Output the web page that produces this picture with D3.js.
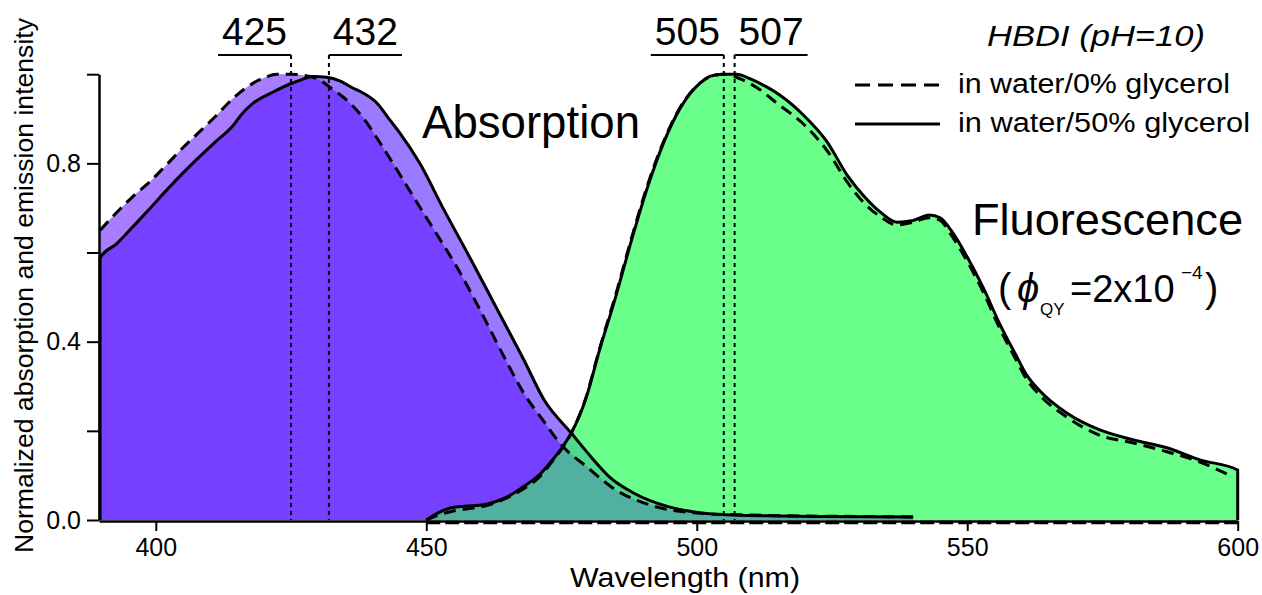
<!DOCTYPE html>
<html>
<head>
<meta charset="utf-8">
<script src="https://cdn.jsdelivr.net/npm/d3@7"></script>
<style>
  html, body { margin: 0; padding: 0; background: #fff; }
  svg { display: block; font-family: "Liberation Sans", Arial, sans-serif; }
</style>
</head>
<body>
<svg id="chart" width="1262" height="595"></svg>
<script>
// ---------- DATA ----------
// Absorption, in water / 0% glycerol (dashed)
const absDashedWl  = [389.7, 392, 395.7, 399, 402, 405, 408.1, 411, 414.3, 418, 420, 422.4, 424.8, 427, 430.3, 432.8, 435.3, 438.4, 441.5, 444.6, 448.8, 452, 456, 460, 464, 468, 471.8, 475, 479.6, 485.1, 491.3, 500.8, 510, 520, 530, 540];
const absDashedVal = [0.650, 0.68, 0.725, 0.76, 0.797, 0.835, 0.871, 0.905, 0.946, 0.98, 0.992, 1.0, 1.0, 0.998, 0.987, 0.965, 0.942, 0.901, 0.845, 0.785, 0.702, 0.64, 0.56, 0.47, 0.375, 0.285, 0.22, 0.168, 0.12, 0.067, 0.034, 0.015, 0.011, 0.009, 0.008, 0.007];
// Absorption, in water / 50% glycerol (solid)
const absSolidWl  = [389.7, 392.8, 395.7, 399, 402, 405, 408.1, 411, 414.3, 416, 418, 421.7, 424.8, 427, 429, 431.6, 434, 436.4, 438.3, 440.9, 443.3, 445, 448.8, 453.3, 458, 463, 468, 471.8, 476.8, 480.5, 484, 488.4, 494.7, 500.8, 506.9, 515, 523, 540];
const absSolidVal = [0.588, 0.62, 0.657, 0.70, 0.74, 0.778, 0.815, 0.848, 0.885, 0.912, 0.935, 0.96, 0.978, 0.988, 0.995, 0.993, 0.985, 0.969, 0.958, 0.935, 0.897, 0.870, 0.80, 0.695, 0.59, 0.475, 0.36, 0.269, 0.195, 0.141, 0.095, 0.06, 0.03, 0.016, 0.011, 0.009, 0.008, 0.007];
// Fluorescence, in water / 50% glycerol (solid)
const fluSolidWl  = [450, 452, 454.4, 457, 460.6, 463, 465.6, 468, 471.2, 473, 475.2, 476.8, 479.5, 482, 485, 488, 491, 494, 497, 500.6, 502.4, 504.8, 507.4, 509.8, 513, 515.4, 520, 524, 528, 531, 534, 537, 540, 543, 545, 547, 550, 553, 556, 559, 561, 563.4, 568.4, 574.5, 580.6, 586.9, 593, 600];
const fluSolidVal = [0.0, 0.015, 0.027, 0.031, 0.034, 0.042, 0.056, 0.075, 0.105, 0.13, 0.164, 0.195, 0.272, 0.38, 0.50, 0.63, 0.75, 0.85, 0.925, 0.98, 0.995, 1.0, 1.0, 0.99, 0.971, 0.953, 0.905, 0.85, 0.77, 0.725, 0.69, 0.668, 0.672, 0.684, 0.678, 0.65, 0.59, 0.52, 0.44, 0.37, 0.325, 0.29, 0.24, 0.202, 0.18, 0.162, 0.135, 0.112];
// Fluorescence, in water / 0% glycerol (dashed)
const fluDashedWl  = [450, 452, 455, 458, 461, 465, 468, 471.2, 473, 475.2, 476.8, 479.5, 482, 485, 488, 491, 494, 497, 500.6, 502.4, 505, 508.5, 511.7, 514.8, 520, 524, 528, 531, 534, 537, 540, 543, 545, 547, 550, 553, 556, 559, 561, 563.4, 568.4, 574.5, 580.6, 586.9, 593, 598.6];
const fluDashedVal = [0.0, 0.01, 0.02, 0.026, 0.032, 0.05, 0.07, 0.10, 0.127, 0.162, 0.195, 0.274, 0.383, 0.505, 0.635, 0.755, 0.853, 0.927, 0.98, 0.994, 1.0, 0.987, 0.965, 0.935, 0.885, 0.83, 0.755, 0.71, 0.68, 0.662, 0.668, 0.678, 0.672, 0.64, 0.58, 0.51, 0.43, 0.36, 0.315, 0.28, 0.231, 0.19, 0.173, 0.153, 0.13, 0.10];

const peakWl    = [425, 432, 505, 507];
const peakLabel = ["425", "432", "505", "507"];
const peakSide  = [-1, 1, -1, 1];

const xTicks = [400, 450, 500, 550, 600];
const yTicks = [0, 0.2, 0.4, 0.6, 0.8, 1.0];
const yTickLabels = ["0.0", "", "0.4", "", "0.8", ""];

const legendTitle  = "HBDI (pH=10)";
const legendLabels = ["in water/0% glycerol", "in water/50% glycerol"];

// ---------- SETUP ----------
const svg = d3.select("#chart");
const x = d3.scaleLinear().domain([389.5, 600]).range([99, 1237.7]);
const y = d3.scaleLinear().domain([0, 1]).range([520, 74.2]);

const zip = (w, v) => w.map((d, i) => [d, v[i]]);
const absD = zip(absDashedWl, absDashedVal);
const absS = zip(absSolidWl, absSolidVal);
const fluS = zip(fluSolidWl, fluSolidVal);
const fluD = zip(fluDashedWl, fluDashedVal);

const curve = d3.curveMonotoneX;
const area = d3.area().curve(curve).x(d => x(d[0])).y0(y(0)).y1(d => y(d[1]));
const line = d3.line().curve(curve).x(d => x(d[0])).y(d => y(d[1]));
const lineLin = d3.line().x(d => x(d[0])).y(d => y(d[1]));

const defs = svg.append("defs");
defs.append("clipPath").attr("id", "clipAbsD").append("path").attr("d", area(absD));
defs.append("clipPath").attr("id", "clipAbsS").append("path").attr("d", area(absS));
const cu = defs.append("clipPath").attr("id", "clipAbsU");
cu.append("path").attr("d", area(absD));
cu.append("path").attr("d", area(absS));

// ---------- FILLS ----------
svg.append("path").attr("d", area(absD)).attr("fill", "#a87cff");
svg.append("path").attr("d", area(absS)).attr("fill", "#9a7aff");
svg.append("g").attr("clip-path", "url(#clipAbsD)")
  .append("path").attr("d", area(absS)).attr("fill", "#7540ff");

[fluS, fluD].forEach(f => svg.append("path").attr("d", area(f)).attr("fill", "#6aff8a"));
const gU = svg.append("g").attr("clip-path", "url(#clipAbsU)");
[fluS, fluD].forEach(f => gU.append("path").attr("d", area(f)).attr("fill", "#50d98e"));
const gI = svg.append("g").attr("clip-path", "url(#clipAbsD)").append("g").attr("clip-path", "url(#clipAbsS)");
[fluS, fluD].forEach(f => gI.append("path").attr("d", area(f)).attr("fill", "#52b0a0"));

// ---------- PEAK MARKERS ----------
const barLen = 73, barY = 55;
peakWl.forEach((p, i) => {
  const px = x(p);
  svg.append("line").attr("x1", px).attr("x2", px).attr("y1", barY).attr("y2", y(0))
    .attr("stroke", "#000").attr("stroke-width", 2).attr("stroke-dasharray", "4,4");
  const xa = px, xb = px + peakSide[i] * barLen;
  svg.append("line").attr("x1", xa).attr("x2", xb).attr("y1", barY).attr("y2", barY)
    .attr("stroke", "#000").attr("stroke-width", 2);
  svg.append("text").attr("x", (xa + xb) / 2).attr("y", 45)
    .attr("text-anchor", "middle").attr("font-size", 39).text(peakLabel[i]);
});

// ---------- LINES ----------
const dash = "12,7";
svg.append("path").attr("d", line(absD)).attr("fill", "none").attr("stroke", "#000")
  .attr("stroke-width", 3).attr("stroke-dasharray", dash);
svg.append("path").attr("d", line([[absS[0][0], 0]].concat(absS))).attr("fill", "none").attr("stroke", "#000")
  .attr("stroke-width", 3);
svg.append("path").attr("d", line(fluD)).attr("fill", "none").attr("stroke", "#000")
  .attr("stroke-width", 3).attr("stroke-dasharray", dash);
svg.append("path").attr("d", line(fluS.concat([[fluS[fluS.length - 1][0] + 0.001, 0]]))).attr("fill", "none")
  .attr("stroke", "#000").attr("stroke-width", 3);
// dashed zero line under the emission
svg.append("path").attr("d", lineLin([[fluD[0][0], 0], [600, 0]])).attr("transform", "translate(0,2.5)")
  .attr("fill", "none").attr("stroke", "#000").attr("stroke-width", 3.5).attr("stroke-dasharray", "14,5");

// ---------- AXES ----------
const xAxis = svg.append("g").attr("transform", `translate(0,${y(0) + 1})`)
  .call(d3.axisBottom(x).tickValues(xTicks).tickSize(10).tickSizeOuter(0).tickPadding(7).tickFormat(d3.format("d")));
const yAxis = svg.append("g").attr("transform", `translate(99,0)`)
  .call(d3.axisLeft(y).tickValues(yTicks).tickSize(12).tickSizeOuter(0).tickPadding(6)
    .tickFormat((d, i) => yTickLabels[i]));
[xAxis, yAxis].forEach(a => {
  a.select(".domain").attr("stroke", "#000").attr("stroke-width", 2.5);
  a.selectAll(".tick line").attr("stroke", "#000").attr("stroke-width", 2);
  a.selectAll(".tick text").attr("font-size", 25).attr("fill", "#000")
    .attr("font-family", "Liberation Sans, Arial, sans-serif");
});

// axis titles
svg.append("text").attr("x", 685).attr("y", 587).attr("text-anchor", "middle")
  .attr("font-size", 27).attr("textLength", 230).attr("lengthAdjust", "spacingAndGlyphs")
  .text("Wavelength (nm)");
svg.append("text").attr("transform", "translate(33,285.5) rotate(-90)").attr("text-anchor", "middle")
  .attr("font-size", 26).attr("textLength", 535).attr("lengthAdjust", "spacingAndGlyphs")
  .text("Normalized absorption and emission intensity");

// ---------- ANNOTATIONS ----------
svg.append("text").attr("x", 422).attr("y", 138).attr("font-size", 46)
  .attr("textLength", 218).attr("lengthAdjust", "spacingAndGlyphs").text("Absorption");
svg.append("text").attr("x", 972).attr("y", 235).attr("font-size", 44)
  .attr("textLength", 271).attr("lengthAdjust", "spacingAndGlyphs").text("Fluorescence");
svg.append("text").attr("x", 998).attr("y", 302).attr("font-size", 40).text("(");
svg.append("text").attr("x", 1017).attr("y", 302).attr("font-size", 40).attr("font-style", "italic").text("ϕ");
svg.append("text").attr("x", 1040).attr("y", 315).attr("font-size", 17).text("QY");
svg.append("text").attr("x", 1070).attr("y", 302).attr("font-size", 38).text("=2x10");
svg.append("text").attr("x", 1181).attr("y", 279).attr("font-size", 19).text("−4");
svg.append("text").attr("x", 1205).attr("y", 302).attr("font-size", 40).text(")");

// ---------- LEGEND ----------
svg.append("text").attr("x", 987).attr("y", 46).attr("font-size", 29).attr("font-style", "italic")
  .attr("textLength", 218).attr("lengthAdjust", "spacingAndGlyphs").text(legendTitle);
const legY = [85, 124], legTextY = [93, 132], legLen = [272, 292];
legendLabels.forEach((lab, i) => {
  svg.append("line").attr("x1", 855).attr("x2", 940).attr("y1", legY[i]).attr("y2", legY[i])
    .attr("stroke", "#000").attr("stroke-width", 3).attr("stroke-dasharray", i === 0 ? "15,8" : null);
  svg.append("text").attr("x", 958).attr("y", legTextY[i]).attr("font-size", 27)
    .attr("textLength", legLen[i]).attr("lengthAdjust", "spacingAndGlyphs").text(lab);
});
</script>
</body>
</html>
